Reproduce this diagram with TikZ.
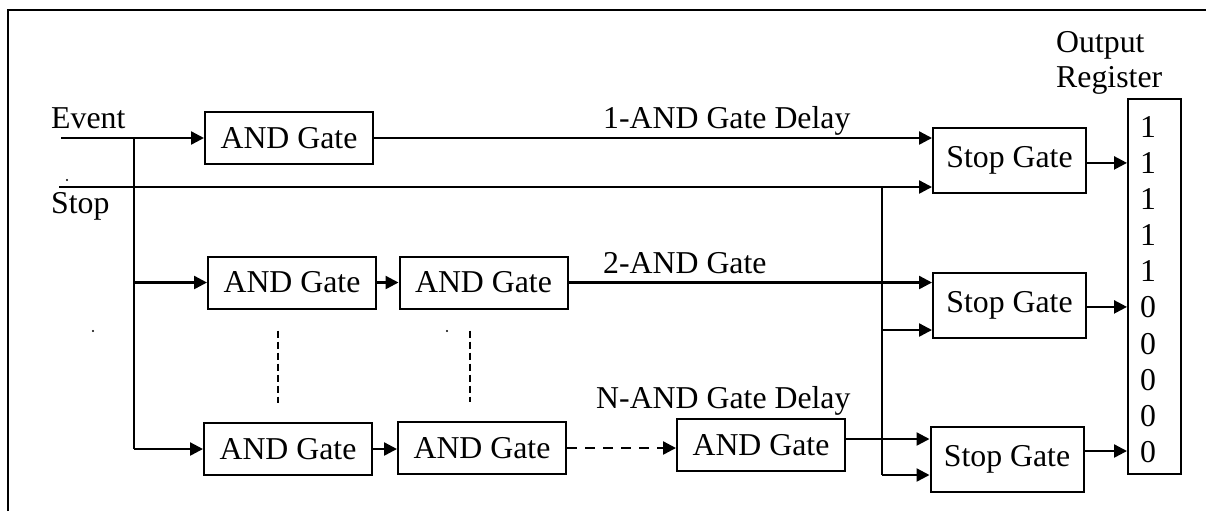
\documentclass[tikz,border=0pt]{standalone}
\usepackage{fontspec}
\setmainfont{Liberation Serif}
\usetikzlibrary{arrows.meta}
\begin{document}
\begin{tikzpicture}[x=0.5pt,y=-0.5pt,
  line width=1.2pt,
  every node/.style={font=\fontsize{15.9}{18}\selectfont, inner sep=0pt},
  gate/.style={draw, line width=1pt, minimum width=84pt, minimum height=26pt},
  stopgate/.style={draw, line width=1pt, minimum width=76.5pt, minimum height=32.5pt},
  arr/.style={-{Triangle[length=6.5pt,width=6.5pt]}},
  dots/.style={dash pattern=on 3.5pt off 2pt, line width=1pt},
  speck/.style={fill, circle, minimum size=1.2pt, inner sep=0pt},
]
\useasboundingbox (0,0) rectangle (1208,511);

% outer frame
\draw[line width=1.2pt] (8,511) -- (8,10) -- (1206,10);

% gates
\node[gate] (and1)  at (289,138)   {AND Gate};
\node[gate] (and2a) at (292,282.5) {AND Gate};
\node[gate] (and2b) at (483.5,282.5) {AND Gate};
\node[gate] (and3a) at (288,449)   {AND Gate};
\node[gate] (and3b) at (482,448)   {AND Gate};
\node[gate] (andN)  at (761,445)   {AND Gate};

\node[stopgate] (stop1) at (1009.5,160.5) {Stop Gate};
\node[stopgate] (stop2) at (1009.5,305.5) {Stop Gate};
\node[stopgate] (stop3) at (1007,459.5)   {Stop Gate};

% output register
\node[draw, line width=1pt, minimum width=26.5pt, minimum height=187.5pt] (reg) at (1154.5,286.5) {};
\foreach \d [count=\i] in {1,1,1,1,1,0,0,0,0,0}
  \node (r\i) at (1148,{127+36.1*(\i-1)}) {\d};

% labels
\node[anchor=base west] (lev)  at (50,128)  {Event};
\node[anchor=base west] (lst)  at (50,213)  {Stop};
\node[anchor=base west] (l1)   at (602,128) {1-AND Gate Delay};
\node[anchor=base west] (l2)   at (602,273) {2-AND Gate};
\node[anchor=base west] (lN)   at (595,408) {N-AND Gate Delay};
\node[anchor=base west] (lout) at (1055,52) {Output};
\node[anchor=base west] (lreg) at (1055,87) {Register};

% small specks
\node[speck] (s1) at (67,180) {};
\node[speck] (s2) at (93,331) {};
\node[speck] (s3) at (447,331) {};

% input wiring
\coordinate (evin) at (61,138);
\coordinate (stin) at (59,187);
\coordinate (j1)   at (134,138);
\coordinate (jb)   at (134,449);
\coordinate (j2)   at (882,187);
\coordinate (jc)   at (882,475);
\coordinate (b2a)  at (882,330);

\draw[arr] (evin) -- (and1.west);
\draw[arr] (stin) -- (stin -| stop1.west);
\draw (j1) -- (jb);
\draw[arr] (j1 |- and2a.west) -- (and2a.west);
\draw[arr] (jb) -- (and3a.west);
\draw (j2) -- (jc);
\draw[arr] (b2a) -- (b2a -| stop2.west);
\draw[arr] (jc) -- (jc -| stop3.west);

% delay chains
\draw[arr] (and1.east) -- (and1.east -| stop1.west);
\draw[arr] (and2a.east) -- (and2b.west);
\draw[arr] (and2b.east) -- (and2b.east -| stop2.west);
\draw[arr] (and3a.east) -- (and3a.east -| and3b.west);
\draw[arr, dash pattern=on 5pt off 4pt] (and3b.east) -- (and3b.east -| andN.west);
\draw[arr] ([yshift=3pt]andN.east) -- ([yshift=3pt]andN.east -| stop3.west);

% vertical ellipsis between rows
\draw[dots] ([yshift=-10.5pt]and2a.south -| 278,0) -- ([yshift=9.5pt]and3a.north -| 278,0);
\draw[dots] ([yshift=-10.5pt]and2b.south -| 470,0) -- ([yshift=9.5pt]and3b.north -| 470,0);

% stop gate outputs to register
\draw[arr] ([yshift=-1.2pt]stop1.east) -- ([yshift=-1.2pt]stop1.east -| reg.west);
\draw[arr] ([yshift=-0.7pt]stop2.east) -- ([yshift=-0.7pt]stop2.east -| reg.west);
\draw[arr] ([yshift=4.25pt]stop3.east) -- ([yshift=4.25pt]stop3.east -| reg.west);
\end{tikzpicture}
\end{document}
